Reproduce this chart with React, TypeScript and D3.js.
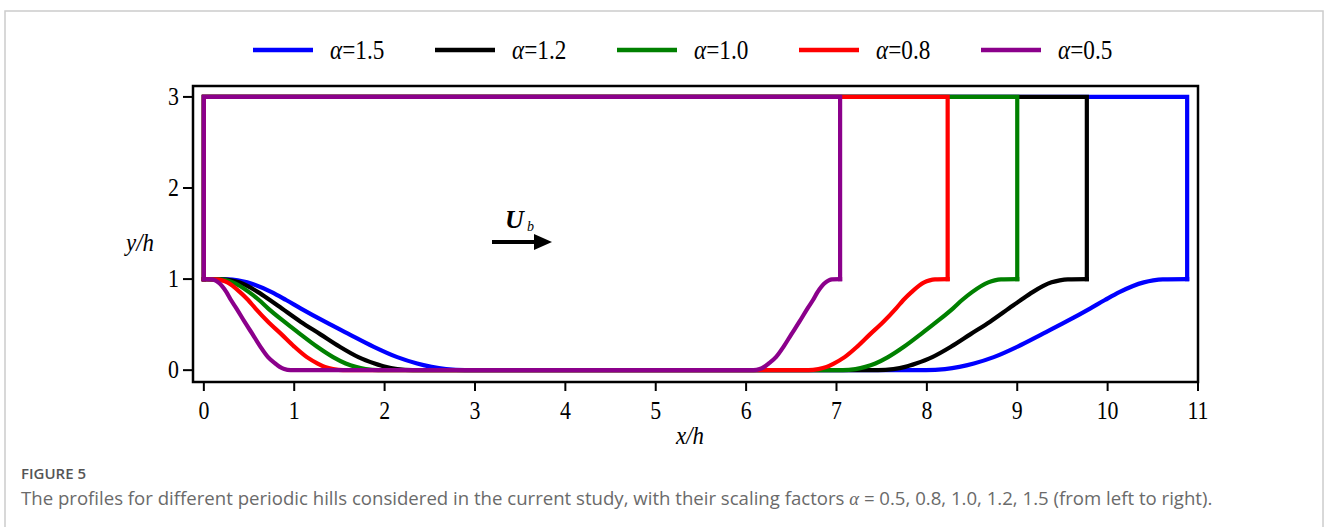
import React from "react";
import * as d3 from "d3";

// hill profiles (x/h, y/h), one set per scaling factor
const alphas = ["1.5", "1.2", "1.0", "0.8", "0.5"];
const colors = ["#0000ff", "#000000", "#008000", "#ff0000", "#8b008b"];
const periodLength = [10.88, 9.77, 9.0, 8.23, 7.04];

// y/h along the descending hill (left side), crest -> foot
const hillY = [1, 0.997, 0.986, 0.964, 0.857, 0.77, 0.679, 0.532, 0.393, 0.259, 0.143, 0.073, 0.036, 0.012, 0];

const leftX = [
  [0, 0.27, 0.375, 0.48, 0.75, 0.91, 1.07, 1.34, 1.61, 1.875, 2.14, 2.36, 2.52, 2.68, 2.89],
  [0, 0.21, 0.3, 0.39, 0.6, 0.73, 0.86, 1.07, 1.29, 1.5, 1.71, 1.89, 2.01, 2.14, 2.31],
  [0, 0.18, 0.25, 0.32, 0.5, 0.61, 0.71, 0.89, 1.07, 1.25, 1.43, 1.57, 1.68, 1.79, 1.93],
  [0, 0.14, 0.2, 0.26, 0.4, 0.49, 0.57, 0.71, 0.86, 1.0, 1.14, 1.26, 1.34, 1.43, 1.54],
  [0, 0.09, 0.125, 0.16, 0.25, 0.3, 0.36, 0.45, 0.54, 0.625, 0.71, 0.79, 0.84, 0.89, 0.96],
];
// ascending hill (right side), foot -> crest
const rightX = [
  [7.99, 8.2, 8.36, 8.52, 8.74, 9.005, 9.27, 9.54, 9.81, 9.97, 10.13, 10.4, 10.505, 10.61, 10.88],
  [7.46, 7.63, 7.76, 7.88, 8.06, 8.27, 8.48, 8.7, 8.91, 9.04, 9.17, 9.38, 9.47, 9.56, 9.77],
  [7.07, 7.21, 7.32, 7.43, 7.57, 7.75, 7.93, 8.11, 8.29, 8.39, 8.5, 8.68, 8.75, 8.82, 9.0],
  [6.69, 6.8, 6.89, 6.97, 7.09, 7.23, 7.37, 7.52, 7.66, 7.74, 7.83, 7.97, 8.03, 8.09, 8.23],
  [6.08, 6.15, 6.2, 6.25, 6.33, 6.415, 6.5, 6.59, 6.68, 6.74, 6.79, 6.88, 6.915, 6.95, 7.04],
];
const channelTop = 3;
const crestY = 1;

const xTicks = [0, 1, 2, 3, 4, 5, 6, 7, 8, 9, 10, 11];
const yTicks = [0, 1, 2, 3];

const W = 1328;
const H = 527;

const serif = "'Liberation Serif', 'DejaVu Serif', serif";
const sans = "'Open Sans', 'Noto Sans', sans-serif";

export default function App() {
  const x = d3.scaleLinear().domain([-0.12, 11]).range([193, 1198]);
  const y = d3.scaleLinear().domain([-0.13, 3.12]).range([382, 86]);

  const bottomLine = d3
    .line<number[]>()
    .x((d) => x(d[0]))
    .y((d) => y(d[1]))
    .curve(d3.curveMonotoneX);
  const boxLine = d3
    .line<number[]>()
    .x((d) => x(d[0]))
    .y((d) => y(d[1]));

  const hillYUp = hillY.slice().reverse();

  const paths = alphas.map((a, i) => {
    const pts: number[][] = [];
    leftX[i].forEach((v, j) => pts.push([v, hillY[j]]));
    rightX[i].forEach((v, j) => pts.push([v, hillYUp[j]]));
    const L = periodLength[i];
    const box = [
      [L, crestY],
      [L, channelTop],
      [0, channelTop],
      [0, crestY],
    ];
    return { a, color: colors[i], bottom: bottomLine(pts) || "", box: boxLine(box) || "" };
  });

  const legendX = [253, 435, 617, 799, 981];

  return (
    <svg
      width={W}
      height={H}
      style={{ position: "absolute", left: 0, top: 0, display: "block", background: "#fff" }}
    >
      <rect x={5} y={11} width={1318} height={560} fill="none" stroke="#cccccc" strokeWidth={1.5} />

      {/* legend */}
      {paths.map((p, i) => (
        <g key={"lg" + i} transform={`translate(${legendX[i]},50)`}>
          <line x1={0} x2={60} y1={0} y2={0} stroke={p.color} strokeWidth={4.5} />
          <text
            transform="translate(77,9) scale(0.86,1)"
            fontFamily={serif}
            fontSize={27}
            fill="#000"
          >
            <tspan fontStyle="italic">α</tspan>={p.a}
          </text>
        </g>
      ))}

      {/* profiles */}
      {paths.map((p, i) => (
        <g key={"pf" + i} fill="none" stroke={p.color} strokeWidth={4.2}>
          <path d={p.box} strokeLinejoin="miter" strokeLinecap="square" />
          <path d={p.bottom} strokeLinejoin="round" strokeLinecap="square" />
        </g>
      ))}

      {/* frame */}
      <rect
        x={x(-0.12)}
        y={y(3.12)}
        width={x(11) - x(-0.12)}
        height={y(-0.13) - y(3.12)}
        fill="none"
        stroke="#000"
        strokeWidth={2.5}
      />

      {/* x axis */}
      {xTicks.map((t) => (
        <g key={"xt" + t}>
          <line x1={x(t)} x2={x(t)} y1={y(-0.13)} y2={y(-0.13) + 9} stroke="#000" strokeWidth={2} />
          <text
            transform={`translate(${x(t)},${y(-0.13) + 37}) scale(0.84,1)`}
            textAnchor="middle"
            fontFamily={serif}
            fontSize={26}
          >
            {t}
          </text>
        </g>
      ))}
      {/* y axis */}
      {yTicks.map((t) => (
        <g key={"yt" + t}>
          <line x1={x(-0.12) - 10} x2={x(-0.12)} y1={y(t)} y2={y(t)} stroke="#000" strokeWidth={2} />
          <text
            transform={`translate(${x(-0.12) - 14},${y(t) + 8}) scale(0.84,1)`}
            textAnchor="end"
            fontFamily={serif}
            fontSize={26}
          >
            {t}
          </text>
        </g>
      ))}

      <text
        transform="translate(690,444) scale(0.88,1)"
        textAnchor="middle"
        fontFamily={serif}
        fontStyle="italic"
        fontSize={26}
      >
        x/h
      </text>
      <text
        transform="translate(140,251) scale(0.88,1)"
        textAnchor="middle"
        fontFamily={serif}
        fontStyle="italic"
        fontSize={26}
      >
        y/h
      </text>

      {/* bulk velocity marker */}
      <text x={505} y={228} fontFamily={serif} fontStyle="italic" fontWeight="bold" fontSize={26}>
        U
      </text>
      <text x={527} y={231} fontFamily={serif} fontStyle="italic" fontSize={14}>
        b
      </text>
      <line x1={492} x2={537} y1={242} y2={242} stroke="#000" strokeWidth={4} />
      <path d="M534,234 L552,242 L534,250 Z" fill="#000" />

      {/* caption */}
      <text x={21} y={479} fontFamily={sans} fontSize={15} fontWeight={600} fill="#555">
        FIGURE 5
      </text>
      <text x={21} y={505} fontFamily={sans} fontSize={18.6} fill="#6a6a6a">
        The profiles for different periodic hills considered in the current study, with their scaling factors{" "}
        <tspan fontFamily={serif} fontStyle="italic">α</tspan> = 0.5, 0.8, 1.0, 1.2, 1.5 (from left to right).
      </text>
    </svg>
  );
}
